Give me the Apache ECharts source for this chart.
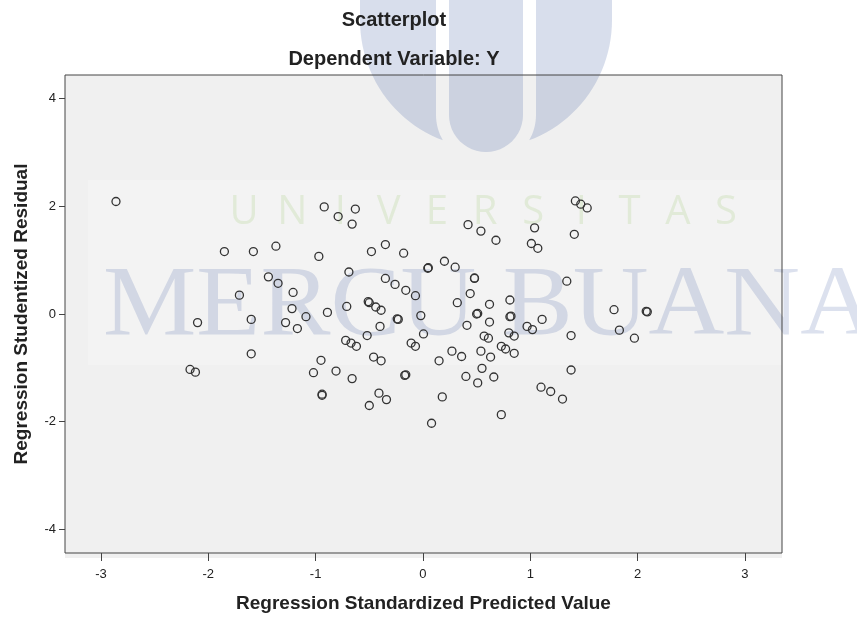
<!DOCTYPE html>
<html>
<head>
<meta charset="utf-8">
<title>Scatterplot</title>
<script src="https://cdn.jsdelivr.net/npm/echarts@6.0.0/dist/echarts.min.js"></script>
<style>
  html, body { margin: 0; padding: 0; background: #fff; }
  #container { width: 857px; height: 618px; }
</style>
</head>
<body>
<div id="container"></div>
<script>
// Regression Standardized Predicted Value (x) / Studentized Residual (y)
var predicted = [
  -2.86, -1.85, -2.10, -2.17, -2.12, -0.92, -0.79, -0.63, -0.66, -1.58,
  -1.37, -0.97, -0.48, -0.35, -0.69, -0.35, -1.44, -1.35, -1.21, -1.71,
  -1.22, -1.09, -0.89, -0.71, -1.60, -1.28, -1.17, -0.51, -0.50, -0.44,
  -0.39, -0.40, -0.52, -0.72, -0.67, -0.62, -1.60, -0.95, -1.02, -0.81,
  -0.66, -0.46, -0.39, -0.94, -0.94, -0.41, -0.34, -0.50, 0.42, 0.54,
  0.68, 1.04, 1.01, 1.07, -0.18, 0.045, 0.05, 0.20, 0.30, 0.48,
  0.48, -0.26, -0.16, -0.07, 0.44, 0.32, 0.62, 0.81, -0.23, -0.24,
  -0.02, 0.50, 0.51, 0.62, 0.81, 0.82, 0.97, 1.02, 1.11, 0.41,
  0.005, 0.57, 0.61, 0.80, 0.85, -0.11, -0.07, 0.27, 0.36, 0.15,
  0.54, 0.63, 0.73, 0.77, 0.85, -0.16, -0.17, 0.40, 0.51, 0.55,
  0.66, 1.10, 0.18, 0.73, 0.08, 1.42, 1.47, 1.53, 1.41, 1.34,
  1.78, 2.09, 2.08, 1.83, 1.97, 1.38, 1.38, 1.19, 1.30
];
var residual = [
  2.09, 1.16, -0.16, -1.03, -1.08, 1.99, 1.81, 1.95, 1.67, 1.16,
  1.26, 1.07, 1.16, 1.29, 0.78, 0.66, 0.69, 0.57, 0.40, 0.35,
  0.10, -0.05, 0.03, 0.14, -0.10, -0.16, -0.27, 0.23, 0.21, 0.13,
  0.07, -0.23, -0.40, -0.49, -0.54, -0.60, -0.74, -0.86, -1.09, -1.06,
  -1.20, -0.80, -0.87, -1.49, -1.51, -1.47, -1.59, -1.70, 1.66, 1.54,
  1.37, 1.60, 1.31, 1.22, 1.13, 0.85, 0.86, 0.98, 0.87, 0.66,
  0.67, 0.55, 0.44, 0.34, 0.38, 0.21, 0.18, 0.26, -0.10, -0.09,
  -0.03, 0.00, 0.01, -0.15, -0.05, -0.04, -0.23, -0.29, -0.10, -0.21,
  -0.37, -0.41, -0.45, -0.35, -0.41, -0.54, -0.60, -0.69, -0.79, -0.87,
  -0.69, -0.80, -0.60, -0.65, -0.73, -1.13, -1.14, -1.16, -1.28, -1.01,
  -1.17, -1.36, -1.54, -1.87, -2.03, 2.10, 2.04, 1.97, 1.48, 0.61,
  0.08, 0.04, 0.05, -0.30, -0.45, -0.40, -1.04, -1.44, -1.58
];
var xTicks = [-3, -2, -1, 0, 1, 2, 3];
var yTicks = [-4, -2, 0, 2, 4];
var xRange = [-3.335, 3.345];
var yRange = [-4.44, 4.44];

var titleText = 'Scatterplot';
var subTitleText = 'Dependent Variable: Y';
var xName = 'Regression Standardized Predicted Value';
var yName = 'Regression Studentized Residual';
var wmWord = 'UNIVERSITAS';
var wmName = 'MERCU BUANA';

var grid = {left: 65, top: 75, right: 75, bottom: 60};
var W = 857, H = 618;

var points = [];
for (var i = 0; i < predicted.length; i++) {
  points.push([predicted[i], residual[i]]);
}

// points along an elliptical arc, angles in degrees (screen coords, y down)
function arc(cx, cy, rx, ry, a0, a1, n) {
  var pts = [];
  for (var j = 0; j <= n; j++) {
    var a = (a0 + (a1 - a0) * j / n) * Math.PI / 180;
    pts.push([cx + rx * Math.cos(a), cy + ry * Math.sin(a)]);
  }
  return pts;
}
function mirror(pts, axisX) {
  return pts.map(function (p) { return [2 * axisX - p[0], p[1]]; });
}

// logo pieces: two outer wings + middle capsule
var leftWing = [[360, 0], [436, 0], [436, 115]]
  .concat(arc(486, 115, 50, 50, 180, 150, 8))
  .concat(arc(486, 20, 126, 128, 110, 180, 24));
var rightWing = mirror(leftWing, 486);
var capsule = [[449, 0], [523, 0]].concat(arc(486, 115, 37, 37, 0, 180, 24));

// background watermark sits between the plot background and the points
var wmBlue = 'rgba(60,90,160,0.2)';
var wmText = 'rgba(60,90,160,0.18)';
var wmGreen = 'rgba(110,180,40,0.13)';

var graphics = [
  {
    type: 'rect', z: 0, silent: true,
    shape: {x: grid.left, y: grid.top, width: W - grid.left - grid.right, height: H - grid.top - grid.bottom},
    style: {fill: '#f0f0f0'}
  },
  {
    type: 'rect', z: 0, silent: true,
    shape: {x: 88, y: 180, width: W - grid.right - 88, height: 185},
    style: {fill: 'rgba(255,255,255,0.2)'}
  },
  {type: 'polygon', z: 1, silent: true, shape: {points: leftWing}, style: {fill: wmBlue}},
  {type: 'polygon', z: 1, silent: true, shape: {points: rightWing}, style: {fill: wmBlue}},
  {type: 'polygon', z: 1, silent: true, shape: {points: capsule}, style: {fill: wmBlue}},
  {
    type: 'text', z: 1, silent: true,
    x: 103, y: 308, scaleX: 1.05,
    style: {
      text: wmName, x: 0, y: 0, fill: wmText,
      font: '100px "Liberation Serif"', align: 'left', verticalAlign: 'middle'
    }
  },
  {
    type: 'text', z: 10, silent: true,
    style: {
      text: titleText, x: 394, y: 20, fill: '#222',
      font: 'bold 20px "Liberation Sans"', align: 'center', verticalAlign: 'middle'
    }
  },
  {
    type: 'text', z: 10, silent: true,
    style: {
      text: subTitleText, x: 394, y: 59, fill: '#222',
      font: 'bold 20px "Liberation Sans"', align: 'center', verticalAlign: 'middle'
    }
  }
];

for (var k = 0; k < wmWord.length; k++) {
  graphics.push({
    type: 'text', z: 1, silent: true,
    style: {
      text: wmWord[k], x: 244 + k * 48.2, y: 213, fill: wmGreen,
      font: '40px "Open Sans"', align: 'center', verticalAlign: 'middle'
    }
  });
}

var myChart = echarts.init(document.getElementById('container'));

var option = {
  animation: false,
  backgroundColor: '#fff',
  grid: {
    left: grid.left, top: grid.top, right: grid.right, bottom: grid.bottom,
    show: true, z: 3,
    backgroundColor: 'transparent',
    borderColor: '#444',
    borderWidth: 1
  },
  graphic: graphics,
  xAxis: {
    type: 'value',
    min: xRange[0],
    max: xRange[1],
    name: xName,
    nameLocation: 'middle',
    nameGap: 41,
    nameTextStyle: {fontFamily: 'Liberation Sans', fontWeight: 'bold', fontSize: 19, color: '#222'},
    axisLine: {show: false, onZero: false},
    axisTick: {show: true, length: 8, customValues: xTicks, lineStyle: {color: '#444'}},
    axisLabel: {customValues: xTicks, margin: 15, fontFamily: 'Liberation Sans', fontSize: 13, color: '#222'},
    splitLine: {show: false}
  },
  yAxis: {
    type: 'value',
    min: yRange[0],
    max: yRange[1],
    name: yName,
    nameLocation: 'middle',
    nameGap: 34,
    nameRotate: 90,
    nameTextStyle: {fontFamily: 'Liberation Sans', fontWeight: 'bold', fontSize: 19, color: '#222'},
    axisLine: {show: false, onZero: false},
    axisTick: {show: true, length: 6, customValues: yTicks, lineStyle: {color: '#444'}},
    axisLabel: {customValues: yTicks, margin: 9, fontFamily: 'Liberation Sans', fontSize: 13, color: '#222'},
    splitLine: {show: false}
  },
  series: [{
    type: 'scatter',
    z: 10,
    data: points,
    symbol: 'circle',
    symbolSize: 8,
    itemStyle: {
      color: 'rgba(0,0,0,0)',
      borderColor: '#333',
      borderWidth: 1.3,
      opacity: 1
    },
    emphasis: {disabled: true}
  }]
};

myChart.setOption(option);
</script>
</body>
</html>
